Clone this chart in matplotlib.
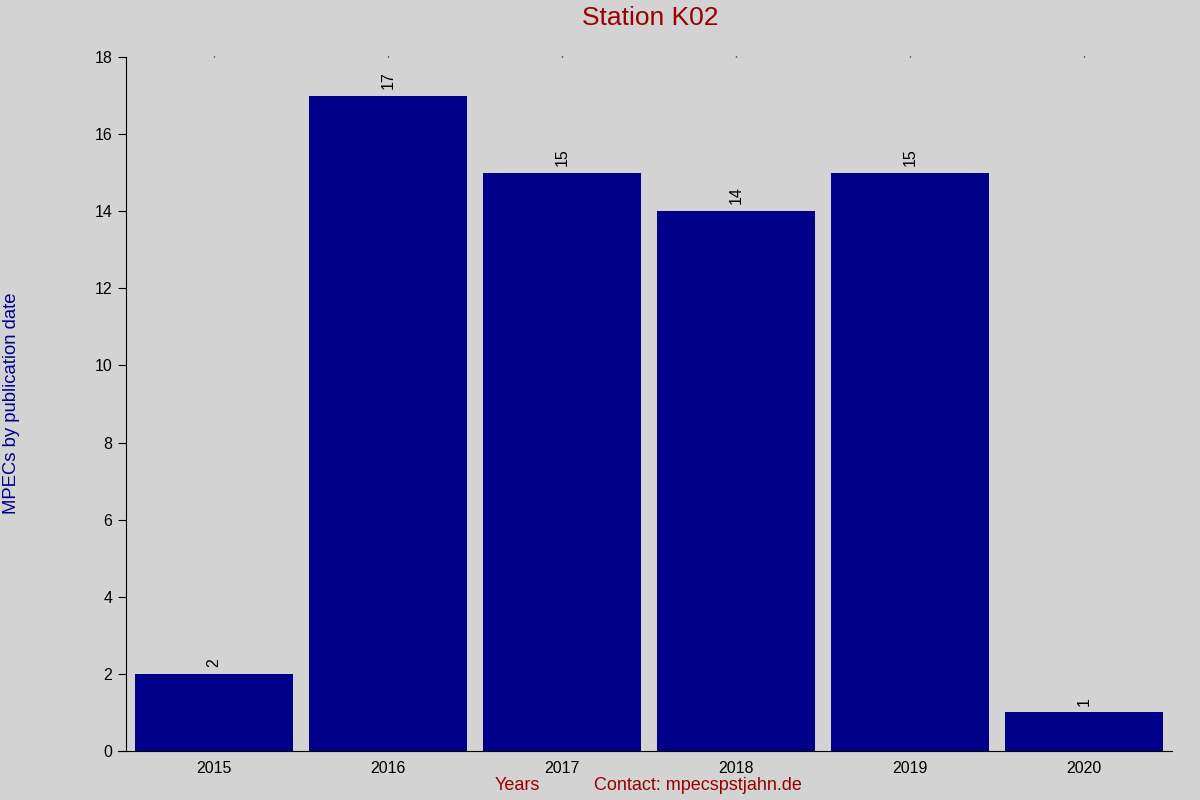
import matplotlib
matplotlib.use("Agg")
import matplotlib.pyplot as plt

years = ["2015", "2016", "2017", "2018", "2019", "2020"]
counts = [2, 17, 15, 14, 15, 1]

BG = "#d3d3d3"
BAR = "#00008b"
RED = "#990000"

plt.rcParams["font.family"] = ["Liberation Sans", "DejaVu Sans"]

fig = plt.figure(figsize=(12, 8), dpi=100, facecolor=BG)
ax = fig.add_axes([118 / 1200, 1 - 751 / 800, (1172 - 118) / 1200, (751 - 57) / 800])
ax.set_facecolor(BG)

x = list(range(len(years)))
ax.bar(x, counts, width=0.908, color=BAR, zorder=2)
for xi, c in zip(x, counts):
    ax.annotate(str(c), (xi, c), xytext=(0, 5), textcoords="offset points",
                rotation=90, ha="center", va="bottom", fontsize=11.5)

ax.set_xlim(-0.552, 5.505)
ax.set_ylim(0, 18)
ax.set_yticks(range(0, 19, 2))
ax.set_xticks(x)
ax.set_xticklabels(years)

for s in ("top", "right"):
    ax.spines[s].set_visible(False)
ax.spines["left"].set_position(("outward", -5.76))
ax.tick_params(axis="y", direction="out", length=5.76, labelsize=11.5, pad=4)
ax.tick_params(axis="x", bottom=False, top=True, length=1, width=1,
               labelsize=11.5, pad=6)

fig.text(650 / 1200, 1 - 18 / 800, "Station K02", ha="center", va="center",
         fontsize=19, color=RED)
fig.text(12 / 1200, 1 - 403 / 800, "MPECs by publication date", rotation=90,
         ha="center", va="center", fontsize=13.3, color=BAR)
fig.text(517 / 1200, 1 - 786 / 800, "Years", ha="center", va="center",
         fontsize=13, color=RED)
fig.text(698 / 1200, 1 - 786 / 800, "Contact: mpecspstjahn.de", ha="center",
         va="center", fontsize=13, color=RED)

fig.savefig("out.png", dpi=100, facecolor=BG)
